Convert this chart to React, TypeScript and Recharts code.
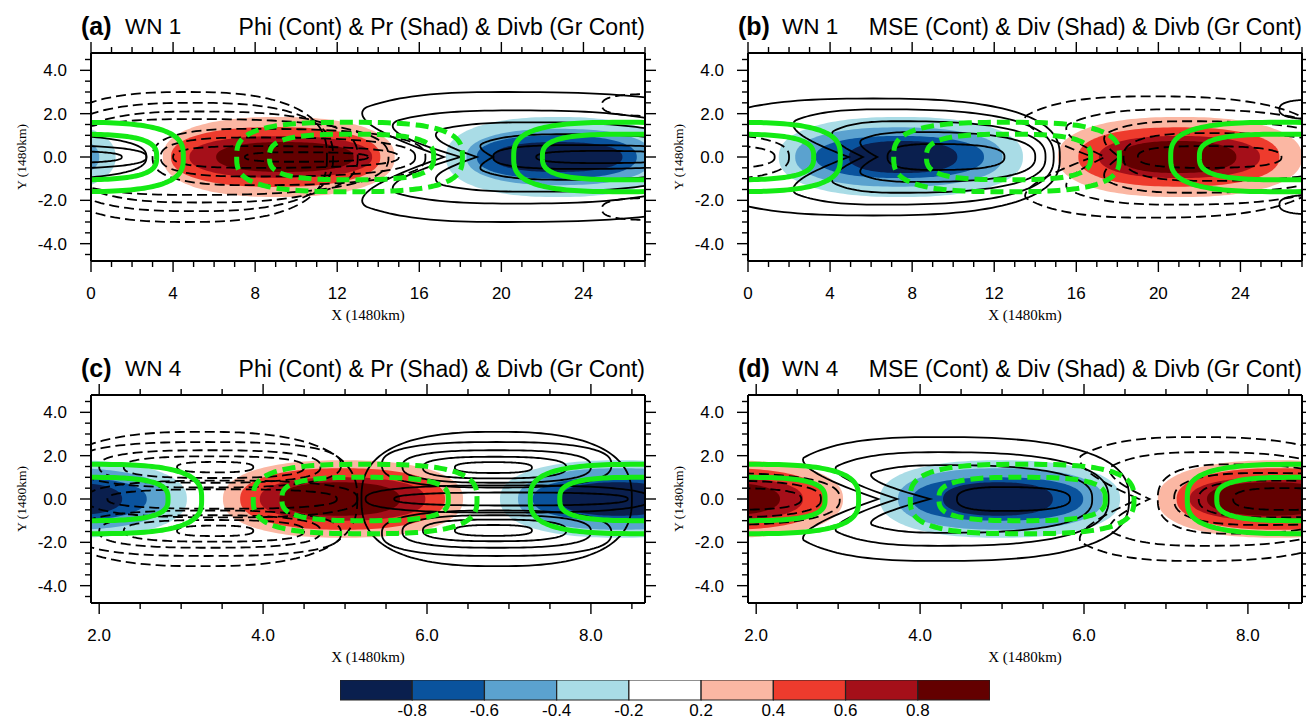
import React from 'react';
import { ComposedChart, XAxis, YAxis, ReferenceArea, Scatter, BarChart, Bar } from 'recharts';

const FONT = "'Liberation Sans', Arial, Helvetica, sans-serif";
const SERIF = "'Liberation Serif', 'Times New Roman', serif";

// shading colours, one per colour-bar interval (< -0.8 ... > 0.8)
const shadeColors = ['#0a1f4e', '#0a539d', '#5ba2cf', '#a9dce6', '#ffffff', '#fbb7a3', '#ee3b2d', '#a50f19', '#630000'];
const barLabels = ['-0.8', '-0.6', '-0.4', '-0.2', '0.2', '0.4', '0.6', '0.8'];

// axis ticks
const yMajor = [-4, -2, 0, 2, 4];
const yMinor = [-4.5, -3.5, -3, -2.5, -1.5, -1, -0.5, 0.5, 1, 1.5, 2.5, 3, 3.5, 4.5];
const xMajorWn1 = [0, 4, 8, 12, 16, 20, 24];
const xMinorWn1 = [1, 2, 3, 5, 6, 7, 9, 10, 11, 13, 14, 15, 17, 18, 19, 21, 22, 23, 25, 26, 27];
const xMajorWn4 = [2, 4, 6, 8];
const xMinorWn4 = [2.5, 3, 3.5, 4.5, 5, 5.5, 6.5, 7, 7.5, 8.5];

// shading: [level, x1, x2, half height]
// contours: [x1, x2, half height, widest point (0..1), y centre, left notch depth, notch half height]

// (a) WN 1: Pr shading, Phi contours
const prWn1 = [
  [5, 3.5, 14.8, 1.85], [6, 3.9, 14.1, 1.38], [7, 4.8, 13.7, 0.96], [8, 6.1, 12.8, 0.69],
  [3, 17.3, 28.2, 1.85], [3, -9.7, 1.2, 1.85], [2, 18.3, 27.4, 1.3], [2, -8.7, 0.4, 1.3],
  [1, 18.8, 26.6, 1.0], [0, 19.6, 25.9, 0.69],
];
const phiPosWn1 = [
  [11.4, 33.0, 3.0, 0.4, 0, 5.8, 2.3], [13.0, 30.0, 2.15, 0.45, 0, 5.0, 1.7],
  [15.5, 29.5, 1.6, 0.42, 0, 3.3, 1.3], [18.6, 29.7, 1.05, 0.4, 0, 1.0, 0.6],
  [19.6, 29.7, 0.55, 0.4], [21.7, 28.5, 0.28, 0.45],
  [-8.4, 2.7, 1.05, 0.4], [-7.4, 2.7, 0.55, 0.4], [-5.3, 1.5, 0.28, 0.45],
];
const phiNegWn1 = [
  [-2.2, 11.5, 3.0, 0.5], [-1.8, 11.8, 2.5, 0.5], [-1.2, 13.0, 2.1, 0.45], [-2.0, 14.5, 1.75, 0.42],
  [3.0, 16.3, 1.3, 0.35], [3.4, 15.8, 0.9, 0.35], [4.0, 15.0, 0.5, 0.35], [7.5, 13.5, 0.22, 0.4],
  [24.9, 29.5, 0.5, 0.5, 2.4], [24.9, 29.5, 0.5, 0.5, -2.4],
];

// (b) WN 1: Div shading, MSE contours
const divWn1 = [
  [3, 1.5, 13.4, 1.85], [2, 2.3, 12.4, 1.37], [1, 3.3, 11.5, 0.97], [0, 4.9, 10.2, 0.74],
  [5, 15.1, 27.0, 1.85], [6, 16.1, 25.9, 1.37], [7, 17.1, 24.95, 0.97], [8, 18.1, 23.8, 0.74],
];
const msePosWn1 = [
  [-3.0, 15.2, 2.7, 0.5], [1.0, 14.9, 2.2, 0.4, 0, 3.9, 1.7], [3.4, 14.5, 1.65, 0.35, 0, 2.2, 1.2],
  [5.0, 14.0, 1.15, 0.35, 0, 1.3, 0.8], [6.8, 12.5, 0.6, 0.4],
  [25.9, 29.5, 0.45, 0.5, 2.2], [25.9, 29.5, 0.45, 0.5, -2.2],
];
const mseNegWn1 = [
  [12.4, 28.3, 2.8, 0.45, 0, 4.4, 1.9], [14.6, 29.3, 2.2, 0.42, 0, 2.8, 1.5],
  [16.8, 29.0, 1.65, 0.38, 0, 1.3, 1.1], [18.3, 28.8, 1.1, 0.38], [19.0, 26.0, 0.5, 0.45],
  [-10.5, 2.0, 1.1, 0.55], [-9.5, 1.3, 0.6, 0.55],
];

// Divb contours (green), shared by (a) and (b)
const divbPosWn1 = [[20.6, 31.5, 1.6], [22.0, 30.2, 1.05], [-6.4, 4.5, 1.6], [-5.0, 3.2, 1.05]];
const divbNegWn1 = [[7.1, 18.1, 1.6], [8.7, 16.7, 1.05]];

// (c) WN 4: Pr shading, Phi contours
const prWn4 = [
  [3, 6.89, 9.83, 1.79], [3, 0.13, 3.07, 1.79], [2, 7.11, 9.6, 1.42], [2, 0.35, 2.84, 1.42],
  [1, 7.29, 9.34, 1.0], [1, 0.53, 2.58, 1.0], [0, 7.62, 9.04, 0.77], [0, 0.86, 2.28, 0.77],
  [5, 3.51, 6.44, 1.79], [6, 3.72, 6.22, 1.42], [7, 3.96, 5.98, 1.0], [8, 4.2, 5.67, 0.77],
];
const phiPosWn4 = [
  [5.2, 8.5, 3.1],
  [5.45, 8.25, 1.05, 0.5, 1.58], [5.45, 8.25, 1.05, 0.5, -1.58],
  [5.7, 8.0, 0.75, 0.5, 1.5], [5.7, 8.0, 0.75, 0.5, -1.5],
  [5.95, 7.7, 0.5, 0.5, 1.45], [5.95, 7.7, 0.5, 0.5, -1.45],
  [6.34, 7.28, 0.25, 0.5, 1.45], [6.34, 7.28, 0.25, 0.5, -1.45],
  [5.25, 8.72, 0.63], [5.6, 8.45, 0.3],
];
const phiNegWn4 = [
  [1.35, 5.15, 3.1],
  [1.7, 4.95, 1.05, 0.5, 1.58], [1.7, 4.95, 1.05, 0.5, -1.58],
  [2.0, 4.7, 0.75, 0.5, 1.5], [2.0, 4.7, 0.75, 0.5, -1.5],
  [2.3, 4.5, 0.5, 0.5, 1.47], [2.3, 4.5, 0.5, 0.5, -1.47],
  [2.95, 3.88, 0.24, 0.5, 1.47], [2.95, 3.88, 0.24, 0.5, -1.47],
  [1.85, 5.15, 0.85], [2.1, 4.9, 0.45],
];

// (d) WN 4: Div shading, MSE contours
const divWn4 = [
  [5, 6.9, 9.82, 1.79], [5, 0.14, 3.06, 1.79], [6, 7.13, 9.6, 1.42], [6, 0.37, 2.84, 1.42],
  [7, 7.29, 9.33, 1.0], [7, 0.53, 2.57, 1.0], [8, 7.5, 9.05, 0.77], [8, 0.74, 2.29, 0.77],
  [3, 3.51, 6.44, 1.79], [2, 3.73, 6.23, 1.42], [1, 3.91, 5.99, 1.0], [0, 4.28, 5.62, 0.77],
];
const msePosWn4 = [
  [2.29, 6.55, 2.86, 0.45, 0, 1.2, 1.9], [2.72, 6.3, 2.16, 0.42, 0, 1.0, 1.5],
  [3.15, 6.1, 1.56, 0.38, 0, 0.97, 1.2], [4.45, 5.83, 0.55, 0.4],
];
const mseNegWn4 = [
  [5.67, 9.4, 2.86, 0.45, 0, 1.0, 2.0], [6.1, 9.3, 2.16, 0.42, 0, 0.7, 1.5], [6.9, 9.2, 1.6, 0.38],
  [7.1, 9.78, 1.2, 0.4], [0.34, 3.02, 1.2, 0.4],
  [7.4, 9.55, 0.85, 0.4], [0.64, 2.79, 0.85, 0.4],
  [7.82, 9.31, 0.5, 0.4], [1.06, 2.55, 0.5, 0.4],
];

// Divb contours (green), shared by (c) and (d)
const divbPosWn4 = [[7.26, 10.01, 1.6], [0.5, 3.25, 1.6], [7.62, 9.6, 1.0], [0.86, 2.84, 1.0]];
const divbNegWn4 = [[3.88, 6.61, 1.6], [4.23, 6.26, 1.0]];

const PLOT_W = 554;
const PLOT_H = 208;

// superellipse outline inside the box the scales give us; widest point at fraction m,
// optional notch pushed into the left side around the centre line
function blobPath(x: number, y: number, w: number, h: number, m: number, n: number, notch = 0, notchV = 1) {
  const cx = x + w * m;
  const aL = w * m;
  const aR = w - aL;
  const cy = y + h / 2;
  const b = h / 2;
  const pts: string[] = [];
  const N = 160;
  for (let i = 0; i < N; i++) {
    const t = (i / N) * Math.PI * 2;
    const c = Math.cos(t);
    const s = Math.sin(t);
    let px = cx + Math.sign(c) * Math.pow(Math.abs(c), 2 / n) * (c >= 0 ? aR : aL);
    const py = cy + Math.sign(s) * Math.pow(Math.abs(s), 2 / n) * b;
    if (c < 0 && notch > 0) {
      const v = Math.abs(py - cy) / b;
      px += notch * Math.pow(Math.max(0, 1 - v / notchV), 1.2);
    }
    pts.push(px.toFixed(2) + ',' + py.toFixed(2));
  }
  return 'M' + pts.join('L') + 'Z';
}

const renderBlobs = (list: number[][], key: string, n: number, style: any) =>
  list.map((b, i) => {
    const yc = b[4] ?? 0;
    const m = b[3] ?? 0.5;
    const nd = b[5] ?? 0;
    const nv = b[6] ? b[6] / b[2] : 1;
    return (
      <ReferenceArea
        key={key + i}
        xAxisId="x"
        yAxisId="y"
        x1={b[0]}
        x2={b[1]}
        y1={yc - b[2]}
        y2={yc + b[2]}
        ifOverflow="hidden"
        shape={(p: any) =>
          Number.isFinite(p.x) && Number.isFinite(p.width) ? (
            <path
              d={blobPath(p.x, p.y, p.width, p.height, m, n, (nd * p.width) / (b[1] - b[0]), nv)}
              clipPath={p.clipPath}
              {...style}
            />
          ) : (
            <g />
          )
        }
      />
    );
  });

// NCL-style outward ticks, long for major and short for minor
const tickMark = (side: string, major: number[], fmt?: (v: number) => string) => (p: any) => {
  const { x, y, payload } = p;
  const v = payload.value;
  const isMajor = major.some((mv) => Math.abs(mv - v) < 1e-6);
  const len = isMajor ? 11 : 6;
  const ln = { stroke: '#000', strokeWidth: 1.4 };
  const txt = { fill: '#000', fontSize: 17, fontFamily: FONT };
  if (side === 'bottom') {
    return (
      <g>
        <line x1={x} y1={y} x2={x} y2={y + len} {...ln} />
        {isMajor && fmt && <text x={x} y={y + 38} textAnchor="middle" {...txt}>{fmt(v)}</text>}
      </g>
    );
  }
  if (side === 'top') return <line x1={x} y1={y - len} x2={x} y2={y} {...ln} />;
  if (side === 'left') {
    return (
      <g>
        <line x1={x - len} y1={y} x2={x} y2={y} {...ln} />
        {isMajor && fmt && <text x={x - 24} y={y + 6} textAnchor="end" {...txt}>{fmt(v)}</text>}
      </g>
    );
  }
  return <line x1={x} y1={y} x2={x + len} y2={y} {...ln} />;
};

interface PanelProps {
  left: number;
  top: number;
  tag: string;
  wn: string;
  title: string;
  xDomain: [number, number];
  xMajor: number[];
  xMinor: number[];
  xFmt: (v: number) => string;
  shade: number[][];
  solid: number[][];
  dashed: number[][];
  grPos: number[][];
  grNeg: number[][];
}

const Panel = (p: PanelProps) => {
  const xTicks = [...p.xMajor, ...p.xMinor].sort((a, b) => a - b);
  const yTicks = [...yMajor, ...yMinor].sort((a, b) => a - b);
  const yFmt = (v: number) => v.toFixed(1);
  const axisLine = { stroke: '#000', strokeWidth: 2 };
  const base = p.top - 18;
  // centres of the shaded cells, so the axes have points to hang on
  const centres = p.shade.map((s) => ({ x: (s[1] + s[2]) / 2, y: 0 }));
  const noDot = () => <g />;
  return (
    <>
      <div style={{ position: 'absolute', left: p.left - 10, top: base - 21, fontFamily: FONT, fontSize: 25, fontWeight: 'bold', lineHeight: '25px', whiteSpace: 'nowrap' }}>
        {p.tag}
      </div>
      <div style={{ position: 'absolute', left: p.left + 34, top: base - 19, fontFamily: FONT, fontSize: 22.5, lineHeight: '22.5px', whiteSpace: 'nowrap' }}>
        {p.wn}
      </div>
      <div style={{ position: 'absolute', left: p.left + PLOT_W - 600, width: 600, top: base - 19.5, fontFamily: FONT, fontSize: 23, lineHeight: '23px', textAlign: 'right', whiteSpace: 'nowrap' }}>
        {p.title}
      </div>
      <div style={{ position: 'absolute', left: p.left - 91, top: p.top - 20 }}>
        <ComposedChart width={91 + PLOT_W + 12} height={20 + PLOT_H + 60 + 4} data={centres} margin={{ top: 19, right: 11, bottom: 4, left: 0 }}>
          <XAxis
            xAxisId="x"
            dataKey="x"
            type="number"
            domain={p.xDomain}
            allowDataOverflow
            ticks={xTicks}
            interval={0}
            tickSize={0}
            tickMargin={0}
            tickLine={false}
            axisLine={axisLine}
            height={60}
            tick={tickMark('bottom', p.xMajor, p.xFmt)}
            label={{ value: 'X (1480km)', position: 'insideBottom', offset: 1, fill: '#000', fontSize: 15, fontFamily: SERIF }}
          />
          <XAxis
            xAxisId="top"
            dataKey="x"
            orientation="top"
            type="number"
            domain={p.xDomain}
            allowDataOverflow
            ticks={xTicks}
            interval={0}
            tickSize={0}
            tickMargin={0}
            tickLine={false}
            axisLine={axisLine}
            height={1}
            tick={tickMark('top', p.xMajor)}
          />
          <YAxis
            yAxisId="y"
            dataKey="y"
            type="number"
            domain={[-4.8, 4.8]}
            allowDataOverflow
            ticks={yTicks}
            interval={0}
            tickSize={0}
            tickMargin={0}
            tickLine={false}
            axisLine={axisLine}
            width={91}
            tick={tickMark('left', yMajor, yFmt)}
            label={{ value: 'Y (1480km)', angle: -90, position: 'insideLeft', offset: 21, fill: '#000', fontSize: 13.5, fontFamily: SERIF, style: { textAnchor: 'middle' } }}
          />
          <YAxis
            yAxisId="right"
            dataKey="y"
            orientation="right"
            type="number"
            domain={[-4.8, 4.8]}
            allowDataOverflow
            ticks={yTicks}
            interval={0}
            tickSize={0}
            tickMargin={0}
            tickLine={false}
            axisLine={axisLine}
            width={1}
            tick={tickMark('right', yMajor)}
          />
          <Scatter xAxisId="x" yAxisId="y" dataKey="y" fill="none" shape={noDot} isAnimationActive={false} />
          <Scatter xAxisId="top" yAxisId="right" dataKey="y" fill="none" shape={noDot} isAnimationActive={false} />
          {p.shade.map((s, i) => (
            <ReferenceArea
              key={'sh' + i}
              xAxisId="x"
              yAxisId="y"
              x1={s[1]}
              x2={s[2]}
              y1={-s[3]}
              y2={s[3]}
              ifOverflow="hidden"
              shape={(q: any) =>
                Number.isFinite(q.x) && Number.isFinite(q.width) ? (
                  <path d={blobPath(q.x, q.y, q.width, q.height, 0.5, 2.3)} clipPath={q.clipPath} fill={shadeColors[s[0]]} stroke="none" />
                ) : (
                  <g />
                )
              }
            />
          ))}
          {renderBlobs(p.solid, 'pos', 2.6, { fill: 'none', stroke: '#000', strokeWidth: 1.8 })}
          {renderBlobs(p.dashed, 'neg', 2.6, { fill: 'none', stroke: '#000', strokeWidth: 1.8, strokeDasharray: '10 5' })}
          {renderBlobs(p.grPos, 'gp', 3, { fill: 'none', stroke: '#14ea14', strokeWidth: 5 })}
          {renderBlobs(p.grNeg, 'gn', 3, { fill: 'none', stroke: '#14ea14', strokeWidth: 5, strokeDasharray: '13 6' })}
        </ComposedChart>
      </div>
    </>
  );
};

const barRow = [Object.fromEntries([['name', 'bar'], ...shadeColors.map((_, i) => ['s' + i, 1])])];

const ColorBar = () => (
  <div style={{ position: 'absolute', left: 320, top: 680 }}>
    <BarChart layout="vertical" width={690} height={40} data={barRow} margin={{ top: 0, right: 20, bottom: 0, left: 20 }} barCategoryGap={0}>
      <XAxis
        type="number"
        domain={[0, 9]}
        allowDataOverflow
        ticks={[1, 2, 3, 4, 5, 6, 7, 8]}
        interval={0}
        tickFormatter={(v: number) => barLabels[v - 1]}
        axisLine={false}
        tickLine={false}
        tickSize={0}
        tickMargin={4}
        height={20}
        tick={{ fill: '#000', fontSize: 17, fontFamily: FONT }}
      />
      <YAxis type="category" dataKey="name" hide />
      {shadeColors.map((c, i) => (
        <Bar key={i} dataKey={'s' + i} stackId="cb" fill={c} stroke="#222" strokeWidth={1.2} isAnimationActive={false} />
      ))}
    </BarChart>
  </div>
);

export default function App() {
  const fmtInt = (v: number) => String(v);
  const fmt1 = (v: number) => v.toFixed(1);
  return (
    <div style={{ position: 'absolute', left: 0, top: 0, width: 1306, height: 720, overflow: 'hidden', background: '#fff', fontFamily: FONT }}>
      <Panel left={91} top={53} tag="(a)" wn="WN 1" title="Phi (Cont) & Pr (Shad) & Divb (Gr Cont)"
        xDomain={[0, 27]} xMajor={xMajorWn1} xMinor={xMinorWn1} xFmt={fmtInt}
        shade={prWn1} solid={phiPosWn1} dashed={phiNegWn1} grPos={divbPosWn1} grNeg={divbNegWn1} />
      <Panel left={748} top={53} tag="(b)" wn="WN 1" title="MSE (Cont) & Div (Shad) & Divb (Gr Cont)"
        xDomain={[0, 27]} xMajor={xMajorWn1} xMinor={xMinorWn1} xFmt={fmtInt}
        shade={divWn1} solid={msePosWn1} dashed={mseNegWn1} grPos={divbPosWn1} grNeg={divbNegWn1} />
      <Panel left={91} top={395} tag="(c)" wn="WN 4" title="Phi (Cont) & Pr (Shad) & Divb (Gr Cont)"
        xDomain={[1.9, 8.66]} xMajor={xMajorWn4} xMinor={xMinorWn4} xFmt={fmt1}
        shade={prWn4} solid={phiPosWn4} dashed={phiNegWn4} grPos={divbPosWn4} grNeg={divbNegWn4} />
      <Panel left={748} top={395} tag="(d)" wn="WN 4" title="MSE (Cont) & Div (Shad) & Divb (Gr Cont)"
        xDomain={[1.9, 8.66]} xMajor={xMajorWn4} xMinor={xMinorWn4} xFmt={fmt1}
        shade={divWn4} solid={msePosWn4} dashed={mseNegWn4} grPos={divbPosWn4} grNeg={divbNegWn4} />
      <ColorBar />
    </div>
  );
}
